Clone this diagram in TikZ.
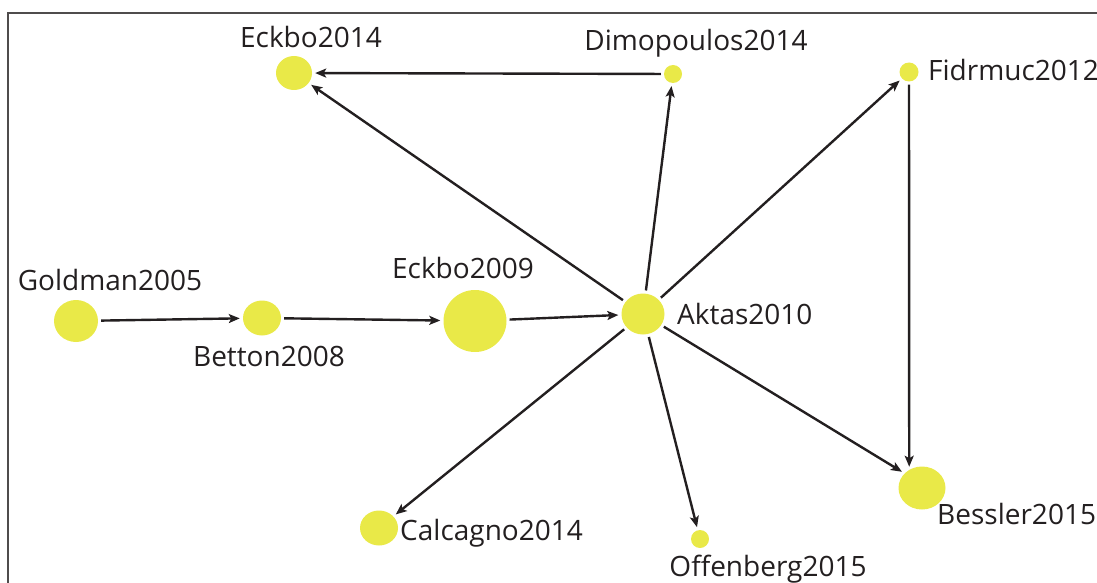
\documentclass[tikz,border=0pt]{standalone}
\usepackage{fontspec}
\setmainfont{Open Sans}
\usetikzlibrary{shapes.geometric,arrows.meta}

\definecolor{dotyellow}{RGB}{233,233,72}
\definecolor{inkgray}{RGB}{35,31,32}

\begin{document}
\begin{tikzpicture}[x=1pt,y=-1pt,>={Stealth[length=11pt,width=9pt,inset=2.5pt]},
    paper/.style={ellipse, fill=dotyellow, inner sep=0pt},
    lbl/.style={text=inkgray, font=\fontsize{28}{30}\selectfont, inner sep=0pt},
    citeedge/.style={->, line width=2.4pt, draw=inkgray, shorten <=3pt, shorten >=3pt}]

        \useasboundingbox (0,0) rectangle (1097,583);
        \clip (0,0) rectangle (1097,583);
        \draw[inkgray!80, line width=1.5pt] (8,600) -- (8,13) -- (1110,13);

        % papers
        \node[paper, minimum width=36pt, minimum height=34pt] at (294,73) (eckboA) {};
        \node[paper, minimum size=18pt] at (673,74) (dimopoulos) {};
        \node[paper, minimum size=19pt] at (909,72) (fidrmuc) {};
        \node[paper, minimum width=44pt, minimum height=42pt] at (76,321) (goldman) {};
        \node[paper, minimum width=38pt, minimum height=35pt] at (262,318) (betton) {};
        \node[paper, minimum width=63pt, minimum height=62pt] at (475,321) (eckboB) {};
        \node[paper, minimum width=43pt, minimum height=41pt] at (643,314) (aktas) {};
        \node[paper, minimum width=38pt, minimum height=35pt] at (379,528) (calcagno) {};
        \node[paper, minimum size=18pt] at (700,539) (offenberg) {};
        \node[paper, minimum width=47pt, minimum height=43pt] at (922,488) (bessler) {};

        % names
        \node[lbl, anchor=base] at (311,48) (eckboAlbl) {Eckbo2014};
        \node[lbl, anchor=base] at (696,51) (dimopouloslbl) {Dimopoulos2014};
        \node[lbl, anchor=base west] at (928,81) (fidrmuclbl) {Fidrmuc2012};
        \node[lbl, anchor=base] at (110,290) (goldmanlbl) {Goldman2005};
        \node[lbl, anchor=base] at (269,366) (bettonlbl) {Betton2008};
        \node[lbl, anchor=base] at (463,278) (eckboBlbl) {Eckbo2009};
        \node[lbl, anchor=base west] at (677,324) (aktaslbl) {Aktas2010};
        \node[lbl, anchor=base west] at (400,540) (calcagnolbl) {Calcagno2014};
        \node[lbl, anchor=base] at (768,576) (offenberglbl) {Offenberg2015};
        \node[lbl, anchor=base west] at (937,524) (besslerlbl) {Bessler2015};

        % citations
        \draw[citeedge] (goldman) -- (betton);
        \draw[citeedge] (betton) -- (eckboB);
        \draw[citeedge] (eckboB) -- (aktas);
        \draw[citeedge] (aktas) -- (eckboA);
        \draw[citeedge] (dimopoulos) -- (eckboA);
        \draw[citeedge] (aktas) -- (dimopoulos);
        \draw[citeedge] (aktas) -- (fidrmuc);
        \draw[citeedge] (fidrmuc.south) -- (bessler.125);
        \draw[citeedge] (aktas) -- (bessler.140);
        \draw[citeedge] (aktas) -- (calcagno);
        \draw[citeedge] (aktas) -- (offenberg);
    \end{tikzpicture}
\end{document}
